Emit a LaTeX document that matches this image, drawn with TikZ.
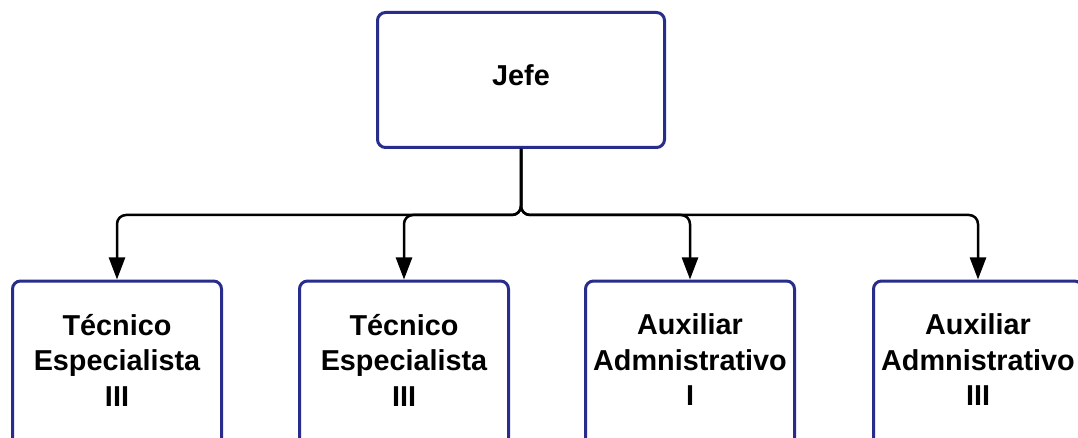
\documentclass[tikz,border=0pt]{standalone}
\usepackage{fontspec}
\setmainfont{Liberation Sans}
\usetikzlibrary{arrows.meta}
\definecolor{boxblue}{RGB}{40,44,138}
\tikzset{
  box/.style={draw=boxblue, line width=3pt, rounded corners=8pt, fill=white, inner sep=0pt},
  lbl/.style={align=center, font=\fontsize{28.8}{35.5}\selectfont\bfseries, text=black},
  conn/.style={draw=black, line width=2.5pt, rounded corners=9pt, -{Triangle[length=22pt,width=16pt]}}
}
\begin{document}
\begin{tikzpicture}[x=1pt,y=1pt]
\useasboundingbox (0,0) rectangle (1078,-438);
\clip (0,0) rectangle (1078,-438);
\node[box, minimum width=287pt, minimum height=135pt] (jefe) at (521,-80) {};
\node[lbl] (jefet) at (521,-75) {Jefe};
\node[box, minimum width=209pt, minimum height=190pt] (b1) at (117,-376) {};
\node[box, minimum width=209pt, minimum height=190pt] (b2) at (404,-376) {};
\node[box, minimum width=209pt, minimum height=190pt] (b3) at (690,-376) {};
\node[box, minimum width=209pt, minimum height=190pt] (b4) at (978,-376) {};
\node[lbl] (t1) at (117,-360) {Técnico\\Especialista\\III};
\node[lbl] (t2) at (404,-360) {Técnico\\Especialista\\III};
\node[lbl] (t3) at (690,-360) {Auxiliar\\Admnistrativo\\I};
\node[lbl] (t4) at (978,-360) {Auxiliar\\Admnistrativo\\III};
\foreach \b in {b1,b2,b3,b4}{
  \draw[conn] (jefe.south) -- ++(0,-66) -| (\b.north);
}
\end{tikzpicture}
\end{document}
